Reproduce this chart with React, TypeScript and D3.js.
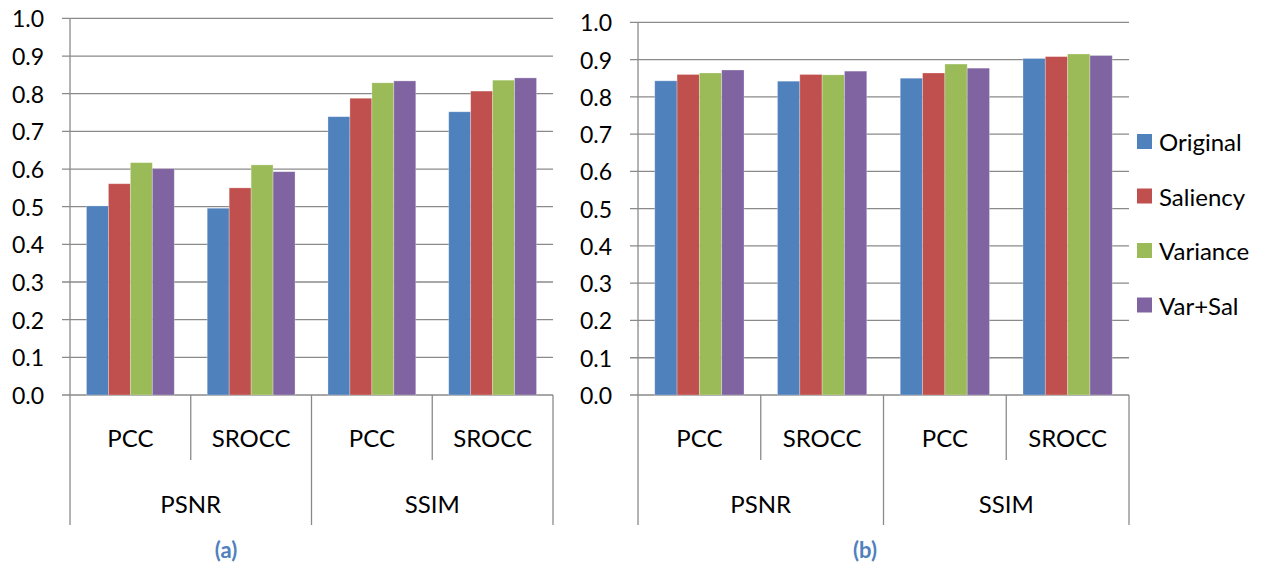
import React from "react";
import * as d3 from "d3";

const categories = ["PSNR|PCC", "PSNR|SROCC", "SSIM|PCC", "SSIM|SROCC"];
const groups = ["PSNR", "SSIM"];
const seriesNames = ["Original", "Saliency", "Variance", "Var+Sal"];
const colors = ["#4f81bd", "#c0504d", "#9bbb59", "#8064a2"];
const yTicks = [0, 0.1, 0.2, 0.3, 0.4, 0.5, 0.6, 0.7, 0.8, 0.9, 1.0];

// values per category, one entry per series (Original, Saliency, Variance, Var+Sal)
const valuesA = [
  [0.502, 0.561, 0.617, 0.601],
  [0.496, 0.55, 0.611, 0.593],
  [0.739, 0.788, 0.829, 0.834],
  [0.752, 0.807, 0.836, 0.842],
];
const valuesB = [
  [0.843, 0.86, 0.864, 0.872],
  [0.842, 0.86, 0.859, 0.869],
  [0.85, 0.864, 0.888, 0.877],
  [0.903, 0.908, 0.915, 0.911],
];

const width = 1265;
const height = 565;
const baseY = 395;
const font = "Lato, 'Open Sans', sans-serif";
const gridColor = "#8a8a8a";

type PanelProps = {
  values: number[][];
  left: number;
  right: number;
  top: number;
  label: string;
  labelX: number;
};

const Panel = ({ values, left, right, top, label, labelX }: PanelProps) => {
  const y = d3.scaleLinear().domain([0, 1]).range([baseY, top]);
  const x = d3.scaleBand().domain(categories).range([left, right]);
  const bw = x.bandwidth();
  // excel gap width 150%
  const gap = (bw / 5.5) * 1.5;
  const inner = d3
    .scaleBand()
    .domain(seriesNames)
    .range([gap / 2, bw - gap / 2]);
  const gx = d3.scaleBand().domain(groups).range([left, right]);

  return (
    <g>
      {yTicks.map((t) => (
        <g key={t}>
          <line x1={left - 8} x2={right} y1={y(t)} y2={y(t)} stroke={gridColor} strokeWidth={1.3} />
          <text
            x={left - 26}
            y={y(t)}
            textAnchor="end"
            dominantBaseline="central"
            fontSize={23}
            fontFamily={font}
            fill="#000"
          >
            {t.toFixed(1)}
          </text>
        </g>
      ))}
      <line x1={left} x2={left} y1={y(1)} y2={525} stroke={gridColor} strokeWidth={1.3} />

      {values.map((row, ci) =>
        row.map((v, si) => (
          <rect
            key={ci + "-" + si}
            x={(x(categories[ci]) as number) + (inner(seriesNames[si]) as number)}
            y={y(v)}
            width={inner.bandwidth()}
            height={baseY - y(v)}
            fill={colors[si]}
            stroke="#ffffff"
            strokeOpacity={0.35}
            strokeWidth={0.8}
          />
        ))
      )}

      {categories.map((c, i) => {
        const cx = x(c) as number;
        const isOuter = i % 2 === 0;
        return (
          <g key={c}>
            {i > 0 && (
              <line
                x1={cx}
                x2={cx}
                y1={baseY}
                y2={isOuter ? 525 : 460}
                stroke={gridColor}
                strokeWidth={1.3}
              />
            )}
            <text
              x={cx + bw / 2}
              y={437}
              textAnchor="middle"
              dominantBaseline="central"
              fontSize={24}
              fontFamily={font}
            >
              {c.split("|")[1]}
            </text>
          </g>
        );
      })}
      <line x1={right} x2={right} y1={baseY} y2={525} stroke={gridColor} strokeWidth={1.3} />

      {groups.map((g) => (
        <text
          key={g}
          x={(gx(g) as number) + gx.bandwidth() / 2}
          y={503}
          textAnchor="middle"
          dominantBaseline="central"
          fontSize={24}
          fontFamily={font}
        >
          {g}
        </text>
      ))}

      <text
        x={labelX}
        y={549}
        textAnchor="middle"
        dominantBaseline="central"
        fontSize={22}
        fontWeight="bold"
        fontFamily={font}
        fill="#4f81bd"
      >
        {label}
      </text>
    </g>
  );
};

const Legend = () => {
  const ly = d3.scaleLinear().domain([0, 3]).range([141.5, 305]);
  return (
    <g>
      {seriesNames.map((s, i) => (
        <g key={s}>
          <rect x={1137} y={ly(i) - 7.5} width={15} height={15} fill={colors[i]} />
          <text
            x={1159}
            y={ly(i)}
            dominantBaseline="central"
            fontSize={24}
            fontFamily={font}
          >
            {s}
          </text>
        </g>
      ))}
    </g>
  );
};

const App = () => {
  return (
    <svg
      width={width}
      height={height}
      style={{ position: "absolute", left: 0, top: 0, background: "#fff" }}
    >
      <Panel values={valuesA} left={70} right={553} top={18.4} label="(a)" labelX={226} />
      <Panel values={valuesB} left={638} right={1129} top={22.3} label="(b)" labelX={865} />
      <Legend />
    </svg>
  );
};

export default App;
